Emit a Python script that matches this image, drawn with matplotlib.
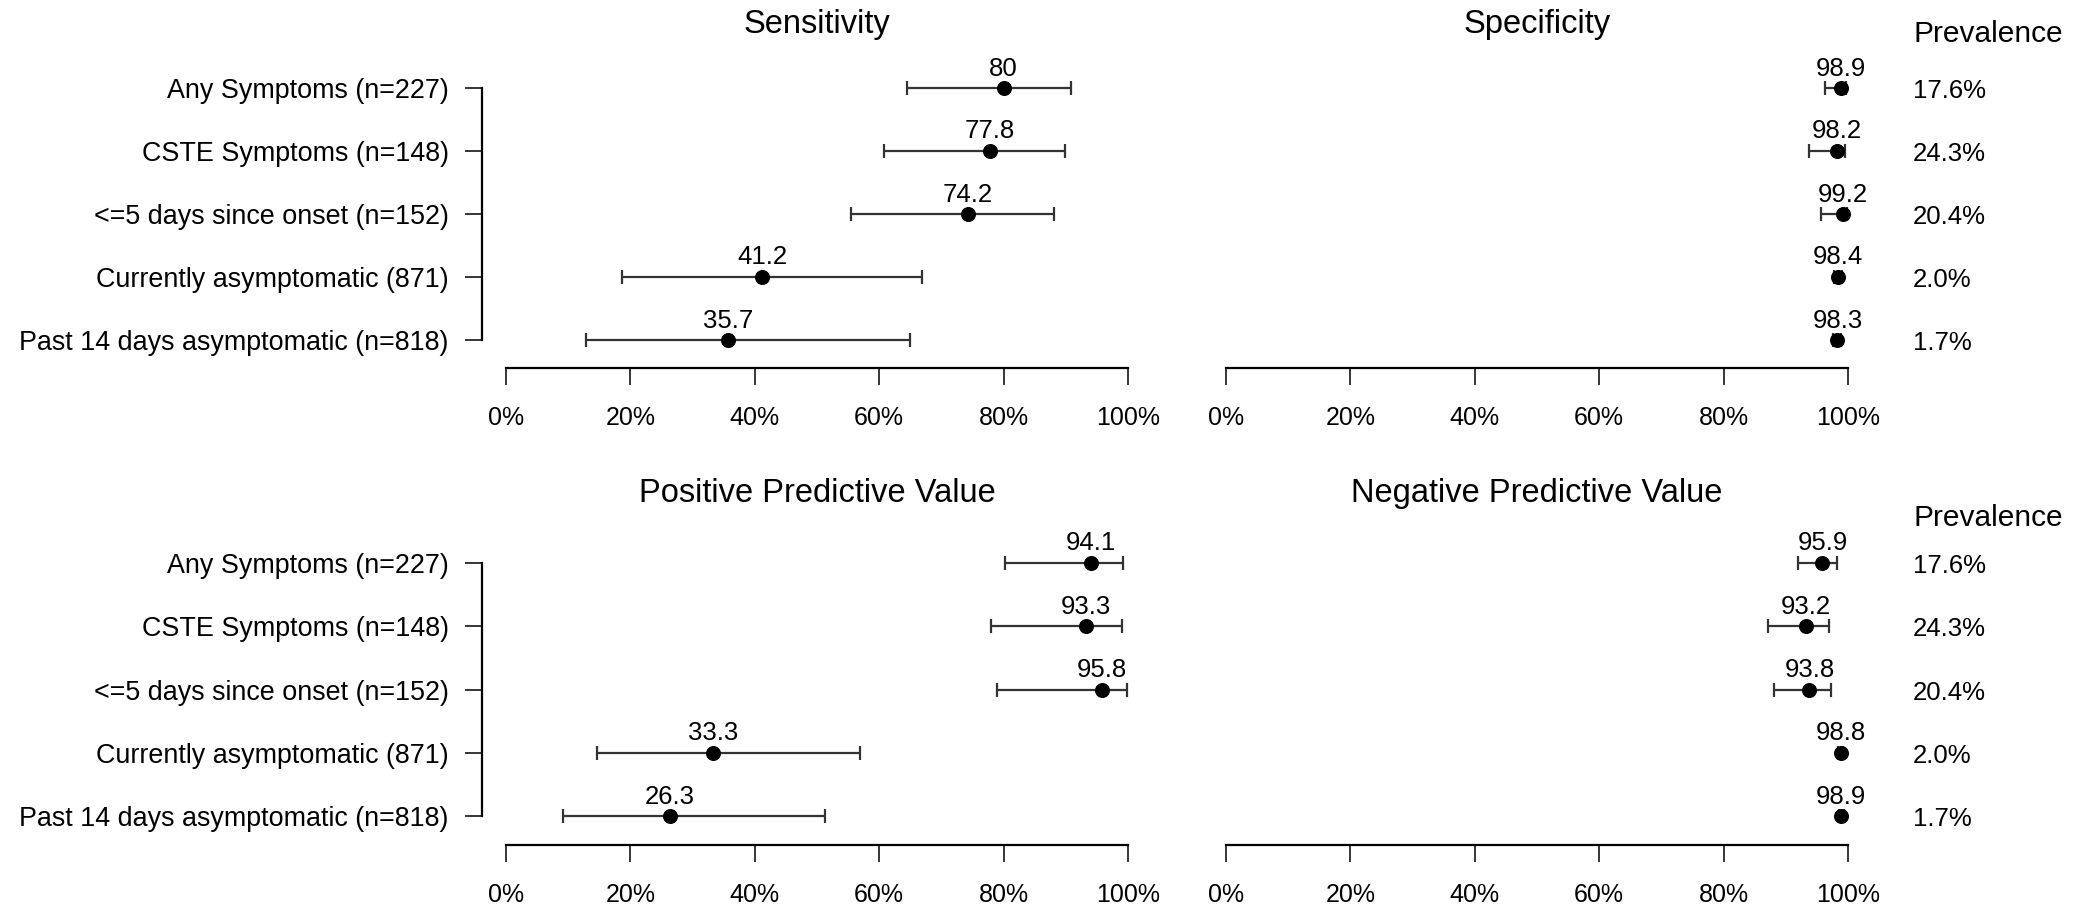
import matplotlib
matplotlib.use("Agg")
import matplotlib.pyplot as plt

plt.rcParams['font.family'] = ['Liberation Sans', 'DejaVu Sans']

# Data
groups = ["Any Symptoms (n=227)", "CSTE Symptoms (n=148)",
          "<=5 days since onset (n=152)", "Currently asymptomatic (871)",
          "Past 14 days asymptomatic (n=818)"]
prevalence = ["17.6%", "24.3%", "20.4%", "2.0%", "1.7%"]

sens = [80, 77.8, 74.2, 41.2, 35.7]
sens_lo = [64.4, 60.8, 55.5, 18.6, 12.9]
sens_hi = [90.8, 89.8, 88.1, 66.9, 64.9]

spec = [98.9, 98.2, 99.2, 98.4, 98.3]
spec_lo = [96.3, 93.8, 95.6, 97.7, 97.6]
spec_hi = [99.7, 99.5, 99.8, 99.0, 98.9]

ppv = [94.1, 93.3, 95.8, 33.3, 26.3]
ppv_lo = [80.2, 77.9, 78.9, 14.6, 9.2]
ppv_hi = [99.2, 99.0, 99.8, 56.9, 51.3]

npv = [95.9, 93.2, 93.8, 98.8, 98.9]
npv_lo = [91.9, 87.1, 88.1, 98.4, 98.5]
npv_hi = [98.3, 97.0, 97.3, 99.2, 99.3]

panels = [
    ("Sensitivity", sens, sens_lo, sens_hi),
    ("Specificity", spec, spec_lo, spec_hi),
    ("Positive Predictive Value", ppv, ppv_lo, ppv_hi),
    ("Negative Predictive Value", npv, npv_lo, npv_hi),
]

W, H = 2095, 910
fig = plt.figure(figsize=(W / 100, H / 100), dpi=100)

# layout in pixels (from top-left)
x_left = (482, 1128)   # left panel: spine .. 100%
x_zero_left = 506
x_right = (1226, 1848)
# first row y, row step, axes top, axes bottom, title y, "Prevalence" y
rows = [(88, 63.0, 60, 368, 25, 34), (563, 63.25, 535, 845, 494, 518)]

ys = list(range(1, len(groups) + 1))

for k, (title, est, lo, hi) in enumerate(panels):
    r, c = divmod(k, 2)
    y0, step, top, bot, ty, py = rows[r]
    xl, xr = x_left if c == 0 else x_right
    ax = fig.add_axes([xl / W, 1 - bot / H, (xr - xl) / W, (bot - top) / H])
    if c == 0:
        ppp = (xr - x_zero_left) / 100
        ax.set_xlim(-(x_zero_left - xl) / ppp, 100)
    else:
        ax.set_xlim(0, 100)
    ax.set_ylim(1 + (bot - y0) / step, 1 + (top - y0) / step)

    err = [[e - l for e, l in zip(est, lo)], [h - e for e, h in zip(est, hi)]]
    ax.errorbar(est, ys, xerr=err, fmt='o', color='black', ms=9.8,
                ecolor='#333333', elinewidth=1.6, capsize=5, capthick=1.6,
                clip_on=False, zorder=3)
    for e, y in zip(est, ys):
        ax.annotate(f"{e:g}", (e, y), xytext=(0, 9), textcoords='offset points',
                    ha='center', va='baseline', fontsize=18.5, annotation_clip=False)

    for s in ('top', 'right'):
        ax.spines[s].set_visible(False)
    ax.spines['bottom'].set_bounds(0, 100)
    ax.spines['bottom'].set_linewidth(1.6)
    ax.set_xticks([0, 20, 40, 60, 80, 100])
    ax.set_xticklabels([f"{t}%" for t in range(0, 101, 20)])
    ax.tick_params(axis='x', direction='out', length=12, width=1.1, pad=15.5, labelsize=18)
    if c == 0:
        ax.spines['left'].set_bounds(1, len(groups))
        ax.spines['left'].set_linewidth(1.6)
        ax.set_yticks(ys)
        ax.set_yticklabels(groups)
        ax.tick_params(axis='y', direction='out', length=12, width=1.1, pad=12, labelsize=19.4)
    else:
        ax.spines['left'].set_visible(False)
        ax.set_yticks([])
        ppp = (xr - xl) / 100
        for p, y in zip(prevalence, ys):
            ax.text((1913 - xl) / ppp, y + 3 / step, p, ha='left', va='center',
                    fontsize=18.5, clip_on=False)
        fig.text(1988 / W, 1 - py / H, "Prevalence", ha='center',
                 va='center', fontsize=21.5)
    ax.set_facecolor('none')
    fig.text(((xl if c == 1 else x_zero_left) + xr) / 2 / W, 1 - ty / H, title,
             ha='center', va='center', fontsize=23.5)

fig.savefig("out.png", dpi=100, facecolor='white')
